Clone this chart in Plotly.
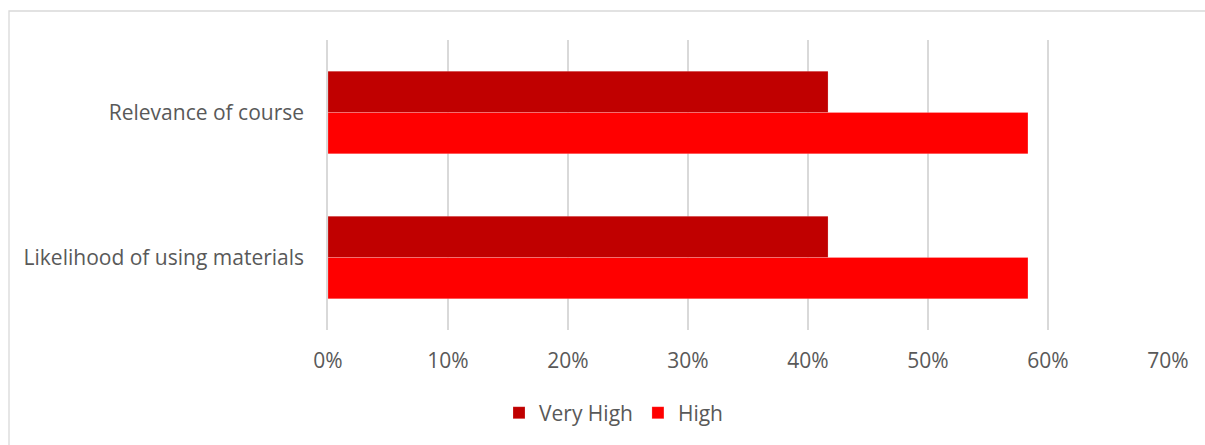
import plotly.graph_objects as go

# Survey ratings per question
categories = ["Relevance of course", "Likelihood of using materials"]
very_high = [0.4167, 0.4167]
high = [0.5833, 0.5833]

series_names = ["Very High", "High"]
series_colors = ["#C00000", "#FF0000"]
tick_vals = [0, 0.1, 0.2, 0.3, 0.4, 0.5, 0.6, 0.7]
tick_text = ["0%", "10%", "20%", "30%", "40%", "50%", "60%", "70%"]

W, H = 1205, 445
M_L, M_R, M_T, M_B = 328, 37, 40, 115
FONT = "'Open Sans', sans-serif"
TEXT = "#595959"
FS = 21

fig = go.Figure()
for name, vals, color in zip(series_names, [very_high, high], series_colors):
    fig.add_trace(go.Bar(
        y=categories, x=vals, name=name, orientation="h",
        marker=dict(color=color, line=dict(color="rgba(255,255,255,0.4)", width=0.5)),
    ))

# Outer chart frame (pixel positions converted to paper units)
pw = W - M_L - M_R
ph = H - M_T - M_B
def px_x(p):
    return (p - M_L) / pw
def px_y(p):
    return (H - M_B - p) / ph

fig.add_shape(type="rect", xref="paper", yref="paper",
              x0=px_x(9), x1=px_x(1215), y0=px_y(455), y1=px_y(11),
              line=dict(color="#d9d9d9", width=1.3), fillcolor="rgba(0,0,0,0)", layer="below")

fig.update_layout(
    width=W, height=H,
    margin=dict(l=M_L, r=M_R, t=M_T, b=M_B),
    paper_bgcolor="white", plot_bgcolor="white",
    barmode="group", bargap=0.43, bargroupgap=0,
    font=dict(family=FONT, size=FS, color=TEXT),
    showlegend=True,
    legend=dict(orientation="h", x=px_x(614), xanchor="center", y=px_y(413), yanchor="middle",
                font=dict(family=FONT, size=FS, color=TEXT), itemwidth=30,
                traceorder="normal", itemclick=False),
    xaxis=dict(range=[0, 0.7], tickvals=tick_vals, ticktext=tick_text,
               showgrid=True, gridcolor="#d9d9d9", gridwidth=1.5,
               zeroline=False, showline=False, ticks="", ticklen=0,
               ticklabelstandoff=16,
               tickfont=dict(family=FONT, size=FS, color=TEXT), fixedrange=True),
    yaxis=dict(autorange="reversed", showgrid=False, zeroline=False,
               showline=True, linecolor="#d9d9d9", linewidth=1.5,
               ticks="", ticklabelstandoff=18,
               tickfont=dict(family=FONT, size=FS, color=TEXT), fixedrange=True),
)

fig.write_html("out.html")
